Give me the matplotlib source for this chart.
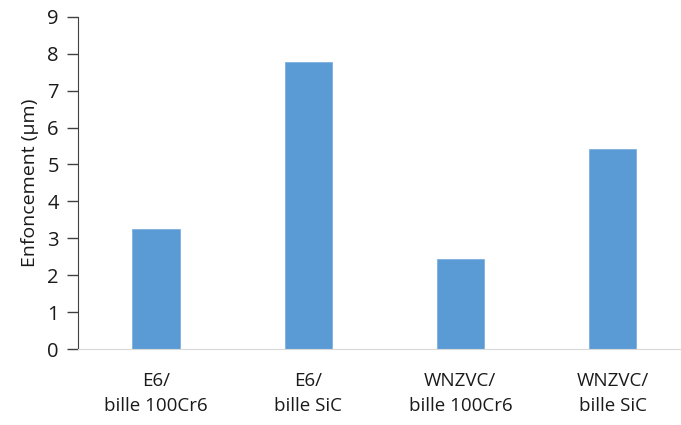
import matplotlib
matplotlib.use('Agg')
import matplotlib.pyplot as plt

categories = ['E6/\nbille 100Cr6', 'E6/\nbille SiC', 'WNZVC/\nbille 100Cr6', 'WNZVC/\nbille SiC']
values = [3.25, 7.78, 2.44, 5.41]

plt.rcParams['font.family'] = ['Open Sans', 'DejaVu Sans']

fig = plt.figure(figsize=(6.81, 4.25), dpi=100)
ax = fig.add_axes([0.115, 0.178, 0.885, 0.783])

x = range(len(categories))
ax.bar(x, values, width=0.31, color='#5B9BD5', edgecolor='#7FB0E0', linewidth=0.6)

ax.set_ylim(0, 9)
ax.set_xlim(-0.51, 3.45)
ax.set_yticks(range(10))
ax.set_xticks(list(x))
ax.set_xticklabels(categories, fontsize=13.5, color='#1a1a1a', linespacing=1.55)
ax.tick_params(axis='x', length=0, pad=16)
ax.tick_params(axis='y', direction='out', length=8, width=1, color='#404040',
               labelsize=14.5, labelcolor='#1a1a1a', pad=6)
ax.set_ylabel('Enfoncement (µm)', fontsize=14, color='#1a1a1a', labelpad=6)

for s in ['top', 'right']:
    ax.spines[s].set_visible(False)
ax.spines['left'].set_color('#404040')
ax.spines['bottom'].set_color('#D9D9D9')

fig.savefig('out.png', dpi=100)
